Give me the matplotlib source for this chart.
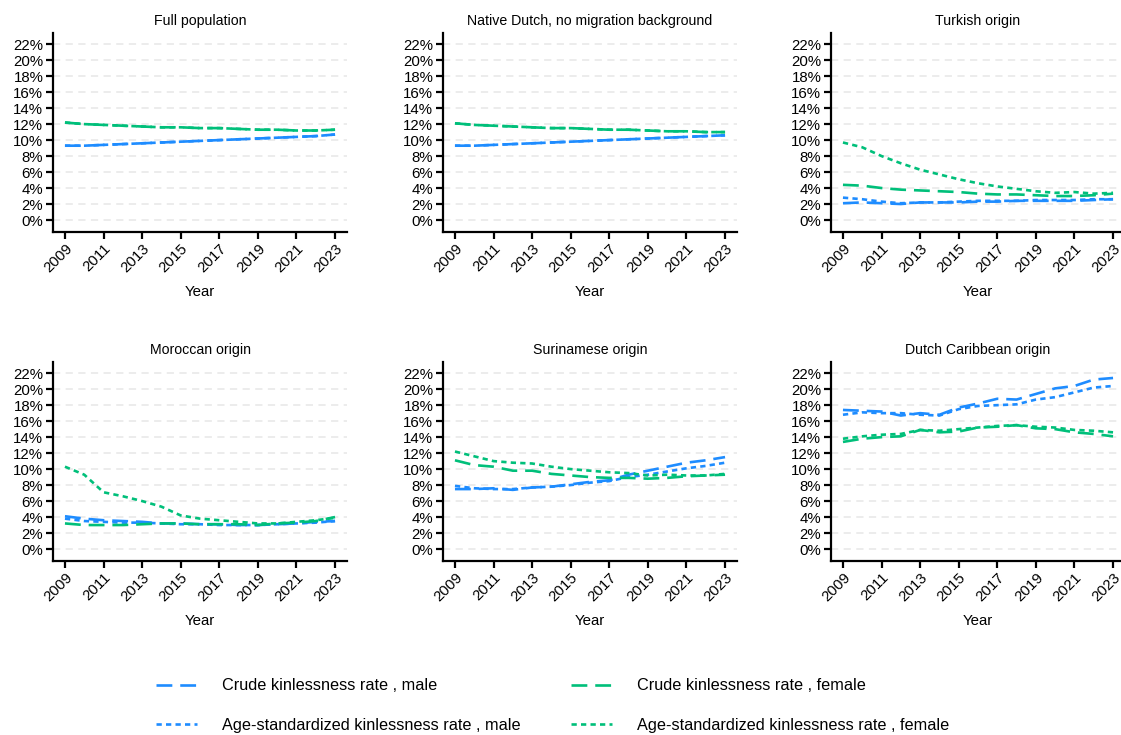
import matplotlib.pyplot as plt
import numpy as np
from matplotlib.lines import Line2D
from matplotlib.ticker import FuncFormatter

plt.rcParams["font.family"] = ["Liberation Sans", "DejaVu Sans"]

years = np.arange(2009, 2024)

panels = [
    "Full population",
    "Native Dutch, no migration background",
    "Turkish origin",
    "Moroccan origin",
    "Surinamese origin",
    "Dutch Caribbean origin",
]

# rates in percent, 2009-2023
crude_male = [
    [9.3, 9.3, 9.4, 9.5, 9.6, 9.7, 9.8, 9.9, 10.0, 10.1, 10.2, 10.3, 10.4, 10.5, 10.7],
    [9.3, 9.3, 9.4, 9.5, 9.6, 9.7, 9.8, 9.9, 10.0, 10.1, 10.2, 10.3, 10.4, 10.5, 10.6],
    [2.1, 2.2, 2.1, 2.0, 2.2, 2.2, 2.2, 2.3, 2.3, 2.4, 2.4, 2.4, 2.4, 2.5, 2.6],
    [4.1, 3.8, 3.6, 3.5, 3.4, 3.2, 3.2, 3.1, 3.1, 3.0, 3.0, 3.1, 3.2, 3.4, 3.5],
    [7.5, 7.5, 7.6, 7.4, 7.7, 7.8, 8.1, 8.4, 8.6, 9.3, 9.8, 10.3, 10.8, 11.1, 11.5],
    [17.4, 17.3, 17.2, 16.7, 17.0, 16.8, 17.7, 18.2, 18.8, 18.7, 19.4, 20.1, 20.4, 21.2, 21.4],
]
std_male = [
    [9.3, 9.3, 9.4, 9.5, 9.6, 9.7, 9.8, 9.9, 10.0, 10.1, 10.2, 10.3, 10.4, 10.5, 10.7],
    [9.3, 9.3, 9.4, 9.5, 9.6, 9.7, 9.8, 9.9, 10.0, 10.1, 10.2, 10.3, 10.4, 10.5, 10.6],
    [2.8, 2.6, 2.3, 2.1, 2.2, 2.2, 2.3, 2.4, 2.4, 2.4, 2.5, 2.5, 2.5, 2.6, 2.6],
    [3.8, 3.5, 3.4, 3.3, 3.3, 3.2, 3.1, 3.1, 3.0, 3.0, 3.0, 3.1, 3.2, 3.3, 3.5],
    [7.9, 7.6, 7.5, 7.5, 7.7, 7.8, 8.0, 8.3, 8.5, 9.0, 9.3, 9.7, 10.1, 10.4, 10.8],
    [16.8, 17.1, 17.0, 17.0, 16.8, 16.7, 17.5, 17.9, 18.0, 18.1, 18.7, 19.0, 19.6, 20.2, 20.4],
]
crude_female = [
    [12.2, 12.0, 11.9, 11.8, 11.7, 11.6, 11.6, 11.5, 11.5, 11.4, 11.3, 11.3, 11.2, 11.2, 11.3],
    [12.1, 11.9, 11.8, 11.7, 11.6, 11.5, 11.5, 11.4, 11.3, 11.3, 11.2, 11.1, 11.1, 11.0, 11.0],
    [4.4, 4.3, 4.0, 3.8, 3.7, 3.6, 3.5, 3.3, 3.2, 3.2, 3.1, 3.0, 3.0, 3.1, 3.3],
    [3.2, 3.0, 3.0, 3.0, 3.1, 3.2, 3.2, 3.1, 3.1, 3.1, 3.0, 3.2, 3.3, 3.5, 4.0],
    [11.1, 10.5, 10.3, 9.8, 9.8, 9.4, 9.2, 9.0, 8.9, 8.9, 8.8, 8.9, 9.1, 9.2, 9.3],
    [13.4, 13.8, 14.0, 14.1, 14.9, 14.6, 14.7, 15.2, 15.3, 15.5, 15.1, 15.0, 14.6, 14.4, 14.1],
]
std_female = [
    [12.2, 12.0, 11.9, 11.8, 11.7, 11.6, 11.6, 11.5, 11.5, 11.4, 11.3, 11.3, 11.2, 11.2, 11.3],
    [12.1, 11.9, 11.8, 11.7, 11.6, 11.5, 11.5, 11.4, 11.3, 11.3, 11.2, 11.1, 11.1, 11.0, 11.0],
    [9.7, 9.1, 8.0, 7.1, 6.3, 5.7, 5.1, 4.6, 4.2, 3.9, 3.6, 3.4, 3.5, 3.3, 3.4],
    [10.3, 9.3, 7.1, 6.6, 6.0, 5.3, 4.2, 3.8, 3.6, 3.4, 3.2, 3.2, 3.4, 3.6, 3.9],
    [12.2, 11.6, 11.0, 10.8, 10.7, 10.3, 10.0, 9.8, 9.6, 9.5, 9.2, 9.3, 9.2, 9.2, 9.4],
    [13.8, 14.1, 14.3, 14.4, 14.9, 14.8, 15.0, 15.2, 15.4, 15.5, 15.3, 15.2, 14.9, 14.8, 14.6],
]

BLUE = "#1E8CFF"
GREEN = "#00BF7A"
LONG = (0, (6, 3))
SHORT = (0, (2, 1.6))
LW = 1.9

series = [
    (crude_male, BLUE, LONG, "Crude kinlessness rate , male"),
    (std_male, BLUE, SHORT, "Age-standardized kinlessness rate , male"),
    (crude_female, GREEN, LONG, "Crude kinlessness rate , female"),
    (std_female, GREEN, SHORT, "Age-standardized kinlessness rate , female"),
]

fig = plt.figure(figsize=(11.21, 7.35), dpi=100)
W, H = 1121, 735
lefts = [53, 443, 831]
tops = [33, 362]
aw, ah = 294, 199

for i, name in enumerate(panels):
    r, c = divmod(i, 3)
    ax = fig.add_axes([lefts[c] / W, 1 - (tops[r] + ah) / H, aw / W, ah / H])
    for data, col, ls, _ in series:
        ax.plot(years, data[i], color=col, linestyle=ls, linewidth=LW)
    ax.set_xlim(2008.38, 2023.62)
    ax.set_ylim(-1.5, 23.4)
    ax.set_yticks(np.arange(0, 23, 2))
    ax.yaxis.set_major_formatter(FuncFormatter(lambda v, p: f"{v:.0f}%"))
    ax.set_xticks(np.arange(2009, 2024, 2))
    ax.set_xticklabels([str(y) for y in range(2009, 2024, 2)], rotation=45,
                       ha="right", rotation_mode="anchor")
    ax.grid(axis="y", color="#ebebeb", linestyle=(0, (4, 3)), linewidth=1.3)
    ax.set_axisbelow(True)
    for s in ["top", "right"]:
        ax.spines[s].set_visible(False)
    for s in ["left", "bottom"]:
        ax.spines[s].set_linewidth(1.6)
    ax.tick_params(direction="out", length=5, width=1.6, labelsize=10.8,
                   colors="black", pad=2)
    ax.set_title(name, fontsize=10.2, pad=6)
    ax.set_xlabel("Year", fontsize=10.8, labelpad=7)

handles = [Line2D([], [], color=col, linestyle=ls, linewidth=LW) for _, col, ls, _ in series]
labels = [lab for _, _, _, lab in series]
fig.legend(handles, labels, loc="center", bbox_to_anchor=(0.493, 0.040), ncol=2,
           frameon=False, fontsize=11.7, handlelength=2.5, handletextpad=1.55,
           columnspacing=3.1, labelspacing=1.5)

fig.savefig("out.png", dpi=100)
